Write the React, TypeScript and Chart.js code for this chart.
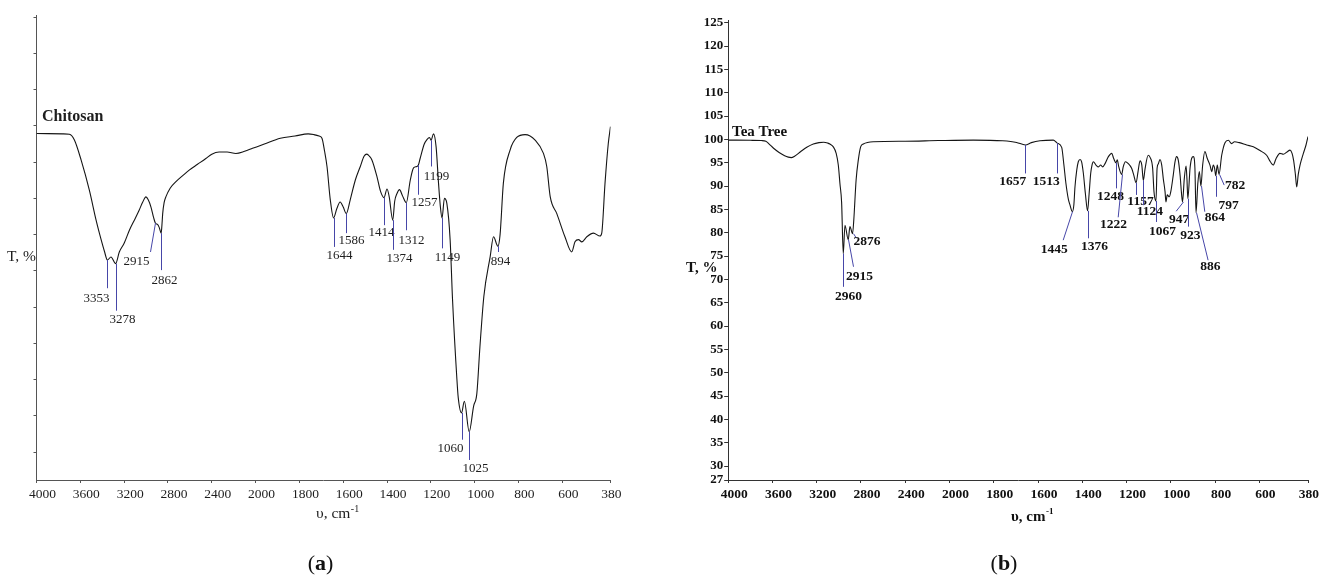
import { useEffect, useRef } from "react";
import { Chart, registerables } from "chart.js";

Chart.register(...registerables);

const SERIF = '"Liberation Serif", "Times New Roman", Times, serif';
const LEADER_COLOR = "#4646a8";

// Wavenumber axis: 4000–2000 cm⁻¹ drawn at half scale, below 2000 cm⁻¹ at full scale
const toAxis = (w: number): number => (w >= 2000 ? (4000 - w) / 400 : 5 + (2000 - w) / 200);

const xTickLabels = [4000, 3600, 3200, 2800, 2400, 2000, 1800, 1600, 1400, 1200, 1000, 800, 600, 380];

// ---- Chitosan spectrum (T, %) ----
const chitosanWavenumber = [
  4000, 3760, 3700, 3654, 3593, 3517, 3456, 3410, 3380, 3353, 3320, 3278, 3244, 3200, 3152, 3100, 3062, 3030,
  3001, 2980, 2955, 2930, 2915, 2895, 2880, 2862, 2855, 2848, 2835, 2819, 2780, 2727, 2660, 2606, 2530, 2454,
  2400, 2333, 2260, 2180, 2100, 2028, 1960, 1887, 1820, 1760, 1735, 1710, 1697, 1685, 1674, 1659, 1644, 1629,
  1614, 1600, 1586, 1568, 1545, 1522, 1505, 1492, 1480, 1469, 1446, 1430, 1414, 1400, 1390, 1374, 1365, 1354,
  1343, 1330, 1312, 1294, 1279, 1264, 1257, 1249, 1230, 1218, 1206, 1199, 1188, 1176, 1165, 1157, 1149, 1138,
  1127, 1112, 1101, 1081, 1075, 1060, 1047, 1025, 1005, 990, 976, 958, 929, 914, 894, 884, 869, 838, 808, 770,
  724, 686, 671, 655, 625, 588, 557, 542, 526, 511, 488, 458, 428, 420, 405, 390, 380,
];
const chitosanT = [
  83.95, 83.9, 83.84, 83.05, 80.3, 76.1, 72.0, 69.3, 67.7, 66.5, 66.9, 66.0, 67.6, 68.8, 70.6, 72.2, 73.4, 74.5,
  75.2, 74.8, 73.8, 72.3, 71.6, 71.4, 71.0, 70.2, 71.3, 72.9, 74.4, 75.2, 76.4, 77.3, 78.2, 78.9, 79.7, 80.5,
  81.1, 81.4, 81.4, 81.2, 81.5, 81.9, 82.5, 83.3, 83.6, 83.9, 83.8, 83.6, 83.3, 81.5, 79.4, 74.8, 72.3, 73.6,
  74.5, 73.8, 72.9, 74.8, 77.5, 79.4, 80.8, 81.1, 80.8, 80.3, 78.0, 76.0, 75.1, 76.3, 75.2, 72.0, 74.6, 75.7,
  76.2, 75.4, 74.4, 77.5, 79.2, 79.4, 79.6, 80.5, 82.5, 83.1, 83.4, 83.0, 83.9, 82.1, 77.1, 74.0, 72.3, 75.0,
  74.3, 69.3, 61.0, 50.0, 47.5, 45.4, 47.0, 42.8, 46.3, 48.1, 54.5, 61.5, 67.0, 69.7, 68.4, 70.0, 77.1, 81.7, 83.4, 83.8,
  83.05, 81.2, 79.4, 75.2, 72.9, 69.7, 67.6, 69.0, 69.3, 69.0, 69.7, 70.2, 69.8, 70.2, 77.1, 82.6, 84.9,
];
const chitosanPeaks = [3353, 3278, 2915, 2862, 1644, 1586, 1414, 1374, 1312, 1257, 1199, 1149, 894, 1060, 1025];
const chitosanTicks = [40, 45, 50, 55, 60, 65, 70, 75, 80, 85, 90, 95, 100];

// ---- Tea tree oil spectrum (T, %) ----
const teaTreeWavenumber = [
  4000, 3800, 3700, 3660, 3630, 3590, 3540, 3490, 3457, 3430, 3400, 3344, 3290, 3231, 3180, 3137, 3100, 3081,
  3050, 3024, 3005, 2990, 2975, 2960, 2945, 2915, 2900, 2876, 2865, 2844, 2824, 2803, 2779, 2689, 2400, 2100,
  1892, 1760, 1697, 1657, 1630, 1591, 1531, 1513, 1493, 1483, 1474, 1463, 1456, 1445, 1438, 1433, 1425, 1418,
  1410, 1403, 1395, 1386, 1376, 1369, 1362, 1356, 1350, 1338, 1327, 1317, 1308, 1297, 1282, 1267, 1258, 1248,
  1242, 1235, 1222, 1215, 1205, 1192, 1177, 1167, 1157, 1148, 1139, 1131, 1124, 1116, 1102, 1093, 1082, 1076,
  1067, 1062, 1056, 1049, 1041, 1034, 1026, 1022, 1016, 1007, 1000, 989, 981, 974, 966, 958, 951, 947, 939, 931,
  927, 923, 913, 906, 898, 891, 886, 878, 871, 864, 856, 846, 835, 823, 815, 808, 802, 797, 790, 782, 770, 755,
  740, 725, 712, 690, 657, 627, 597, 567, 550, 537, 525, 507, 491, 475, 461, 452, 445, 437, 431, 424, 416, 401,
  389, 380,
];
const teaTreeT = [
  99.85, 99.8, 99.75, 99.6, 99.0, 98.1, 97.2, 96.5, 96.2, 96.1, 96.4, 97.4, 98.3, 99.0, 99.3, 99.4, 99.2, 99.0,
  98.4, 97.0, 94.5, 90.5, 86.5, 75.5, 81.6, 78.5, 81.3, 79.8, 82.7, 91.3, 95.6, 98.4, 99.0, 99.5, 99.6, 99.75,
  99.85, 99.7, 99.35, 98.8, 99.3, 99.7, 99.85, 99.2, 98.3, 94.5, 90.6, 87.2, 86.0, 84.5, 86.0, 89.8, 93.4, 95.2,
  95.7, 95.2, 92.7, 88.4, 84.7, 88.4, 92.7, 94.5, 95.2, 94.5, 94.1, 94.5, 94.1, 94.8, 96.3, 97.0, 95.9, 95.0,
  95.6, 94.1, 92.5, 94.1, 95.2, 94.8, 93.8, 92.3, 90.7, 93.1, 95.4, 94.5, 91.2, 93.8, 96.6, 96.1, 93.8, 88.8,
  86.8, 93.8, 94.8, 95.7, 94.5, 91.6, 88.8, 86.6, 88.1, 87.7, 88.8, 92.3, 95.2, 96.3, 95.5, 92.3, 88.1, 86.6, 91.6, 94.3,
  91.5, 87.3, 93.8, 95.9, 96.3, 93.8, 84.3, 90.5, 93.1, 90.0, 94.5, 97.4, 95.9, 94.5, 93.1, 94.5, 93.8, 92.2, 94.5, 92.5, 96.6, 99.3,
  99.8, 99.1, 99.5, 99.3, 98.8, 98.4, 97.6, 96.6, 95.2, 94.5, 95.8, 97.0, 96.8, 97.3, 97.7, 97.0, 95.5, 92.5, 89.8, 92.5, 94.5, 97.0,
  98.8, 100.6,
];
const teaTreePeaks = [2960, 2915, 2876, 1657, 1513, 1445, 1376, 1248, 1222, 1157, 1124, 1067, 947, 923, 886, 864, 797, 782];
const teaTreeTicks = [27, 30, 35, 40, 45, 50, 55, 60, 65, 70, 75, 80, 85, 90, 95, 100, 105, 110, 115, 120, 125];

// Leader layout per peak: [horizontal slant px, leader end (T units), label dx px, label dy px]
type Leader = [number, number, number, number];
const chitosanLeaders: Leader[] = [
  [0, 62.6, -11, 10], [0, 59.5, 6, 9.3], [-5, 67.6, -14, 10], [0, 65.1, 3, 10],
  [0, 68.3, 5, 8.3], [0, 70.2, 5, 7.4], [0, 71.3, -3, 7.7], [0, 67.9, 6, 9],
  [0, 70.6, 5, 10], [0, 75.5, 6, 8.3], [0, 79.4, 5, 10], [0, 68.1, 5, 9.4],
  [0, 67.6, 2, 9.7], [0, 41.7, -12, 9.3], [0, 38.9, 6, 9],
];
const teaTreeLeaders: Leader[] = [
  [0, 68.4, 5, 10], [5, 72.7, 6, 10], [3, 78.8, 10.4, 3.7], [0, 92.7, -12.7, 8.4],
  [0, 92.7, -11.3, 8.4], [-9.3, 78.4, -9, 9.3], [0, 78.8, 6, 8], [0, 89.5, -6, 8.4],
  [-4.3, 83.3, -4.7, 7], [0, 88.1, 4, 6.7], [0, 85.9, 6.3, 6.7], [0, 82.3, 6, 9.3],
  [-7.3, 84.6, 3, 8.3], [0, 81.3, 1.8, 9.3], [11.6, 74.1, 2.2, 6], [3.3, 84.5, 10, 5.6],
  [0, 87.7, 12, 9], [4.7, 90.2, 11, 0],
];

function transmittanceAt(wn: number[], t: number[], w: number): number {
  for (let i = 0; i < wn.length - 1; i++) {
    const a = wn[i];
    const b = wn[i + 1];
    if (w <= a && w >= b) {
      const f = (toAxis(w) - toAxis(a)) / (toAxis(b) - toAxis(a));
      return t[i] + f * (t[i + 1] - t[i]);
    }
  }
  return t[t.length - 1];
}

interface Panel {
  name: string;
  wn: number[];
  t: number[];
  peaks: number[];
  leaders: Leader[];
  yTicks: number[];
  yMin: number;
  yMax: number;
  showYLabels: boolean;
  bold: boolean;
  width: number;
  area: { left: number; right: number; top: number; bottom: number };
  peakSize: number;
  nameAt: [number, number];
  nameSize: number;
  yTitleAt: [number, number];
  xTitleAt: [number, number];
  titleSize: number;
  caption: string;
  captionAt: [number, number];
  ink: string;
  axis: string;
}

const HEIGHT = 576;

const chitosanPanel: Panel = {
  name: "Chitosan",
  wn: chitosanWavenumber,
  t: chitosanT,
  peaks: chitosanPeaks,
  leaders: chitosanLeaders,
  yTicks: chitosanTicks,
  yMin: 36.14,
  yMax: 100.3,
  showYLabels: false,
  bold: false,
  width: 660,
  area: { left: 36.5, right: 610.5, top: 15, bottom: 480 },
  peakSize: 13,
  nameAt: [42, 117],
  nameSize: 16,
  yTitleAt: [7, 257],
  xTitleAt: [316, 514],
  titleSize: 15.5,
  caption: "a",
  captionAt: [320.5, 564],
  ink: "#1e1e1e",
  axis: "#555555",
};

const teaTreePanel: Panel = {
  name: "Tea Tree",
  wn: teaTreeWavenumber,
  t: teaTreeT,
  peaks: teaTreePeaks,
  leaders: teaTreeLeaders,
  yTicks: teaTreeTicks,
  yMin: 27,
  yMax: 125.5,
  showYLabels: true,
  bold: true,
  width: 673,
  area: { left: 68.2, right: 648, top: 20.4, bottom: 480 },
  peakSize: 13.5,
  nameAt: [72, 132],
  nameSize: 15,
  yTitleAt: [26, 268],
  xTitleAt: [351, 517],
  titleSize: 15,
  caption: "b",
  captionAt: [344, 564],
  ink: "#111111",
  axis: "#333333",
};

function decorations(p: Panel) {
  return {
    id: "spectrumDecor",
    afterDatasetsDraw(chart: Chart) {
      const ctx = chart.ctx;
      const xs = chart.scales.x;
      const ys = chart.scales.y;
      const weight = p.bold ? "bold " : "";
      ctx.save();

      // peak leaders and their wavenumber labels
      ctx.lineWidth = 1;
      ctx.strokeStyle = LEADER_COLOR;
      ctx.fillStyle = p.ink;
      ctx.font = `${weight}${p.peakSize}px ${SERIF}`;
      ctx.textAlign = "center";
      ctx.textBaseline = "middle";
      p.peaks.forEach((w, i) => {
        const [dx, endT, lx, ly] = p.leaders[i];
        const x0 = Math.round(xs.getPixelForValue(toAxis(w))) + 0.5;
        const y0 = ys.getPixelForValue(transmittanceAt(p.wn, p.t, w));
        const x1 = x0 + dx;
        const y1 = ys.getPixelForValue(endT);
        ctx.beginPath();
        ctx.moveTo(x0, y0);
        ctx.lineTo(x1, y1);
        ctx.stroke();
        ctx.fillText(String(w), x1 + lx, y1 + ly);
      });

      // sample name
      ctx.textAlign = "left";
      ctx.font = `bold ${p.nameSize}px ${SERIF}`;
      ctx.fillText(p.name, p.nameAt[0], p.nameAt[1]);

      // axis titles
      ctx.font = `${weight}${p.titleSize}px ${SERIF}`;
      ctx.fillText("T, %", p.yTitleAt[0], p.yTitleAt[1]);
      const unit = "\u03C5, cm";
      ctx.fillText(unit, p.xTitleAt[0], p.xTitleAt[1]);
      const uw = ctx.measureText(unit).width;
      ctx.font = `${weight}${Math.round(p.titleSize * 0.62)}px ${SERIF}`;
      ctx.fillText("-1", p.xTitleAt[0] + uw + 0.5, p.xTitleAt[1] - 5);

      // panel caption "(a)" / "(b)"
      const capSize = 22;
      ctx.font = `${capSize}px ${SERIF}`;
      const wl = ctx.measureText("(").width;
      const wr = ctx.measureText(")").width;
      ctx.font = `bold ${capSize}px ${SERIF}`;
      const wm = ctx.measureText(p.caption).width;
      let cx = p.captionAt[0] - (wl + wm + wr) / 2;
      const cy = p.captionAt[1];
      ctx.fillStyle = "#111111";
      ctx.font = `${capSize}px ${SERIF}`;
      ctx.fillText("(", cx, cy);
      cx += wl;
      ctx.font = `bold ${capSize}px ${SERIF}`;
      ctx.fillText(p.caption, cx, cy);
      cx += wm;
      ctx.font = `${capSize}px ${SERIF}`;
      ctx.fillText(")", cx, cy);

      ctx.restore();
    },
  };
}

function buildChart(canvas: HTMLCanvasElement, p: Panel): Chart {
  const weight = p.bold ? "bold" : "normal";
  const points = p.wn.map((w, i) => ({ x: toAxis(w), y: p.t[i] }));
  const last = xTickLabels.length - 1;
  return new Chart(canvas, {
    type: "line",
    data: {
      datasets: [
        {
          data: points,
          borderColor: "#151515",
          borderWidth: 1.1,
          pointRadius: 0,
          cubicInterpolationMode: "monotone",
          fill: false,
        },
      ],
    },
    options: {
      animation: false,
      responsive: false,
      events: [],
      layout: {
        padding: {
          left: 0,
          right: p.width - p.area.right,
          top: p.area.top,
          bottom: 0,
        },
      },
      plugins: {
        legend: { display: false },
        tooltip: { enabled: false },
        title: { display: false },
      },
      scales: {
        x: {
          type: "linear",
          min: 0,
          max: toAxis(380),
          afterBuildTicks: (scale: any) => {
            scale.ticks = xTickLabels.map((w) => ({ value: toAxis(w) }));
          },
          afterFit: (scale: any) => {
            scale.height = HEIGHT - p.area.bottom;
          },
          ticks: {
            autoSkip: false,
            maxRotation: 0,
            padding: 3,
            labelOffset: 6,
            color: p.ink,
            font: { family: SERIF, size: 13.5, weight },
            // the end label sits on its tick; trailing spaces pull it back against the offset
            callback: (_v: any, i: number) =>
              i === last ? `${xTickLabels[i]}\u00a0\u00a0\u00a0` : String(xTickLabels[i]),
          },
          grid: { drawOnChartArea: false, color: p.axis, tickLength: 3 },
          border: { display: true, color: p.axis, width: 1 },
        },
        y: {
          type: "linear",
          min: p.yMin,
          max: p.yMax,
          afterBuildTicks: (scale: any) => {
            scale.ticks = p.yTicks.map((v) => ({ value: v }));
          },
          afterFit: (scale: any) => {
            scale.width = p.area.left;
          },
          ticks: {
            display: p.showYLabels,
            autoSkip: false,
            padding: 1,
            color: p.ink,
            font: { family: SERIF, size: 13, weight },
            callback: (v: any) => String(v),
          },
          grid: { drawOnChartArea: false, color: p.axis, tickLength: p.showYLabels ? 4 : 3 },
          border: { display: true, color: p.axis, width: 1 },
        },
      },
    } as any,
    plugins: [decorations(p)],
  });
}

export default function App() {
  const leftRef = useRef<HTMLCanvasElement>(null);
  const rightRef = useRef<HTMLCanvasElement>(null);

  useEffect(() => {
    const left = buildChart(leftRef.current!, chitosanPanel);
    const right = buildChart(rightRef.current!, teaTreePanel);
    return () => {
      left.destroy();
      right.destroy();
    };
  }, []);

  return (
    <div
      style={{
        position: "absolute",
        left: 0,
        top: 0,
        width: 1333,
        height: HEIGHT,
        background: "#ffffff",
        overflow: "hidden",
      }}
    >
      <canvas
        ref={leftRef}
        width={chitosanPanel.width}
        height={HEIGHT}
        style={{ position: "absolute", left: 0, top: 0 }}
      />
      <canvas
        ref={rightRef}
        width={teaTreePanel.width}
        height={HEIGHT}
        style={{ position: "absolute", left: chitosanPanel.width, top: 0 }}
      />
    </div>
  );
}
